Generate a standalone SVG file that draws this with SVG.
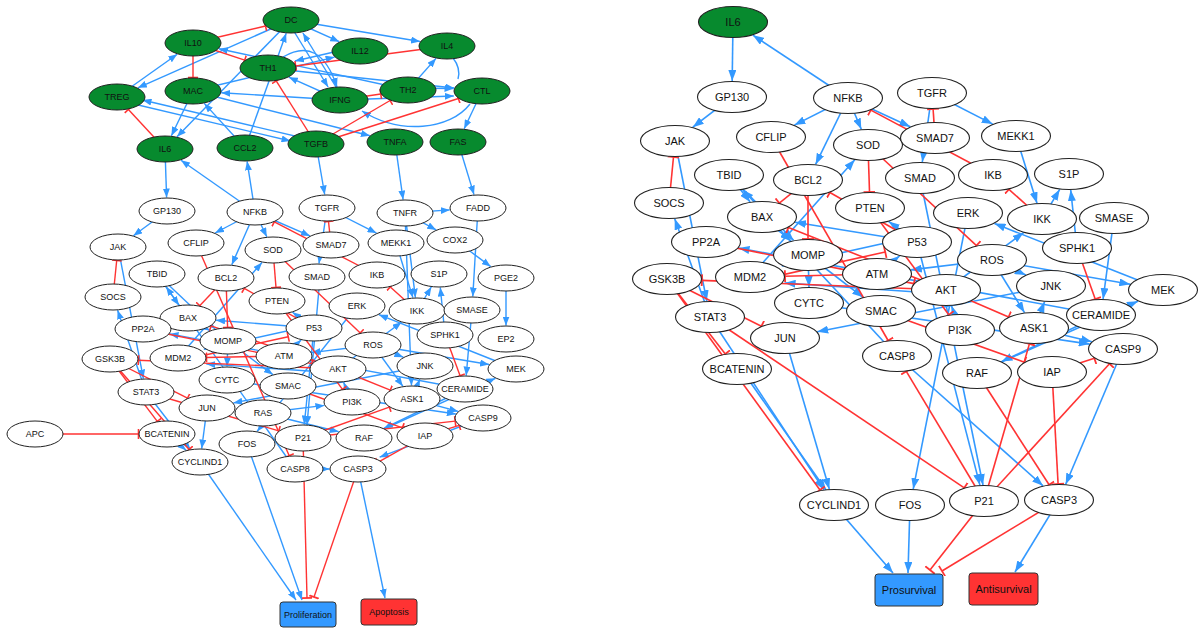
<svg xmlns="http://www.w3.org/2000/svg" width="1199" height="630" viewBox="0 0 1199 630">
<style>
text{font-family:"Liberation Sans",Arial,sans-serif;fill:#111;text-anchor:middle}
.L text{font-size:9px}
.R text{font-size:11px}
.L ellipse{stroke:#222;stroke-width:1}
.R ellipse{stroke:#222;stroke-width:1.1}
.w ellipse{fill:#fff}
.g ellipse{fill:#078a2e}
.e path{fill:none}
.el path{stroke-width:1.4}
.er path{stroke-width:1.6}
.a path{stroke:#3399ff}
.i path{stroke:#ff3333}
.el .a path{marker-end:url(#aL)}
.el .i path{marker-end:url(#tL)}
.er .a path{marker-end:url(#aR)}
.er .i path{marker-end:url(#tR)}
.el .p path{stroke:#3399ff}
.box rect{stroke:#333;stroke-width:1}
</style>
<defs>
<marker id="aL" markerUnits="userSpaceOnUse" markerWidth="9" markerHeight="7" refX="9" refY="3.5" orient="auto"><path d="M0,0 L9,3.5 L0,7 z" fill="#3399ff"/></marker>
<marker id="tL" markerUnits="userSpaceOnUse" markerWidth="3" markerHeight="10" refX="1.5" refY="5" orient="auto"><path d="M1.5,0 V10" stroke="#ff3333" stroke-width="1.6"/></marker>
<marker id="aR" markerUnits="userSpaceOnUse" markerWidth="11" markerHeight="8" refX="11" refY="4" orient="auto"><path d="M0,0 L11,4 L0,8 z" fill="#3399ff"/></marker>
<marker id="tR" markerUnits="userSpaceOnUse" markerWidth="3" markerHeight="12" refX="1.5" refY="6" orient="auto"><path d="M1.5,0 V12" stroke="#ff3333" stroke-width="1.8"/></marker>
</defs>
<rect width="1199" height="630" fill="#fff"/>

<g id="connectors">
<g id="edges-left" class="e el">
<g class="a">
<path d="M165,149 L166.6,197.5"/><path d="M255,212 L181,160.2"/><path d="M167,211 L133.4,235.7"/><path d="M118,247 L143.4,378.6"/>
<path d="M146,392 L117.6,310.3"/><path d="M255,212 L215.1,233"/><path d="M255,212 L231.8,264.8"/><path d="M255,212 L266.8,236.8"/>
<path d="M255,212 L310,235.9"/><path d="M327,208 L319,263.5"/><path d="M327,208 L376.5,233.1"/><path d="M396,243 L412.9,297.6"/>
<path d="M157,274 L179,305.2"/><path d="M157,274 L215.2,328.9"/><path d="M188,318 L209.9,330.6"/><path d="M228,341 L227,366.5"/>
<path d="M228,341 L272.8,374.6"/><path d="M314,328 L216.1,320.2"/><path d="M314,328 L292.5,312.3"/><path d="M314,325 L203.8,349.3"/>
<path d="M284,356 L301.1,340"/><path d="M207,408 L201.7,448.6"/><path d="M167,434 L186.1,450.2"/><path d="M146,392 L190.2,449.3"/>
<path d="M227,380 L455.8,414"/><path d="M483,418 L379.6,457.2"/><path d="M295,469 L329.5,469"/><path d="M295,469 L166.1,286.8"/>
<path d="M352,402 L343.6,382.2"/><path d="M338,373 L206.2,363.9"/><path d="M338,369 L401.5,322.3"/><path d="M364,438 L495.4,378.3"/>
<path d="M516,369 L378.9,314.7"/><path d="M357,306 L257.1,431.4"/><path d="M373,345 L311.6,352.6"/><path d="M373,345 L402.8,386.2"/>
<path d="M373,345 L403.3,357.2"/><path d="M412,399 L419.8,379.3"/><path d="M425,366 L233.4,402.9"/><path d="M472,310 L466.2,375.6"/>
<path d="M445,335 L440.3,287.5"/><path d="M465,389 L169.5,333.9"/><path d="M314,328 L304.3,424.5"/><path d="M320,277 L307,425"/>
<path d="M465,389 L383.9,428.3"/><path d="M412,399 L458.2,411.4"/><path d="M373,345 L489.1,364.5"/><path d="M178,358 L262,262.5"/>
<path d="M417,311 L431.3,287"/>
<path d="M316,144 L324.7,194.5"/><path d="M395,142 L403.1,199.6"/><path d="M458,142 L474,194.6"/><path d="M405,213 L449.8,209.9"/>
<path d="M405,213 L436.2,229.9"/><path d="M455,240 L490.7,266.6"/><path d="M506,278 L506,325.5"/><path d="M478,208 L472.8,296.5"/>
<path d="M405,213 L415.4,297.6"/><path d="M405,213 L411.5,385.5"/><path d="M263,413 L324.4,405.4"/><path d="M263,413 L338.7,431.7"/>
<path d="M255,212 L247.1,161.3"/>
<path d="M200,462 L296,600"/><path d="M247,444 L302,600"/><path d="M358,469 L385,598"/>
<path d="M291,20 L339.3,41.7"/><path d="M291,20 L420.1,41.5"/><path d="M117,97 L177.2,54.2"/><path d="M291,20 L137.8,87.8"/>
<path d="M408,90 L218.9,48.7"/><path d="M360,46 L295,61"/><path d="M245,148 L286.2,33.3"/><path d="M344,100 L302.9,33"/>
<path d="M287,20 L328.1,87"/><path d="M283,57 Q320,35 337,87"/><path d="M193,91 L171.4,135.8"/><path d="M117,100 L290.5,141"/>
<path d="M316,141 L142.5,100"/><path d="M193,91 L369.9,135.7"/><path d="M340,100 L221.3,92.7"/><path d="M193,91 L334.6,57.1"/>
<path d="M245,148 L204.3,103.4"/><path d="M291,20 L177,136.7"/><path d="M268,68 L454.2,88"/><path d="M408,90 L436,58.4"/>
<path d="M408,88 L453.5,88.5"/><path d="M340,100 L453.8,96"/><path d="M470,104 C450,130 400,135 362,111"/><path d="M482,91 L464.2,128.8"/>
<path d="M340,100 L288.8,77.2"/>
</g>
<g class="p"><path d="M453,58 Q461,68 458,79"/></g>
<g class="i">
<path d="M113,297 L116.7,260.5"/><path d="M377,275 L274.3,221.9"/><path d="M417,311 L390.3,286.9"/><path d="M331,245 L328.5,221.5"/>
<path d="M196,243 L289.2,455.8"/><path d="M226,278 L199.7,305.7"/><path d="M226,278 L227.6,327.5"/><path d="M314,328 L244.3,288.4"/>
<path d="M178,361 L288.2,336.7"/><path d="M284,356 L206.5,357.5"/><path d="M338,369 L138.4,360.2"/><path d="M110,359 L157.3,421.3"/>
<path d="M110,359 L189.1,449.5"/><path d="M110,359 L187.5,398.2"/><path d="M143,329 L311.9,363.6"/><path d="M288,386 L402.4,427.8"/>
<path d="M425,436 L459.2,425.4"/><path d="M425,436 L377.8,462.3"/><path d="M277,301 L342.5,389.3"/><path d="M338,369 L211.1,325.9"/>
<path d="M273,250 L360.3,332.9"/><path d="M445,335 L460.1,375.7"/><path d="M146,392 L278.8,430.9"/><path d="M303,438 L389.3,407.1"/>
<path d="M303,438 L455.2,421.1"/><path d="M273,250 L276,287.5"/><path d="M338,369 L390.3,390.2"/><path d="M35,434 L138.5,434"/>
<path d="M303,438 L307,598"/><path d="M358,469 L314,597"/>
<path d="M193,43 L265.5,26"/><path d="M193,43 L193,77.5"/><path d="M193,43 L244.7,60.2"/><path d="M447,46 L295.6,66"/>
<path d="M165,149 L128.4,109.4"/><path d="M340,100 L380.8,94"/><path d="M316,144 L276.2,80.9"/><path d="M316,144 L390.1,100.5"/>
<path d="M316,144 L458.4,98.5"/>
</g>
</g>

<g id="edges-right" class="e er">
<g class="a">
<path d="M733,22 L732.2,81"/><path d="M848,98 L752.9,35.2"/><path d="M732,97 L692.8,127.2"/><path d="M675,141 L706.8,301.1"/>
<path d="M710,317 L674.7,218.8"/><path d="M848,98 L794.4,125.1"/><path d="M848,98 L815.6,164.4"/><path d="M848,98 L861.3,129.3"/>
<path d="M848,98 L910.3,126.7"/><path d="M932,93 L922.3,162"/><path d="M932,93 L992.7,124.1"/><path d="M1016,136 L1037,203.2"/>
<path d="M729,175 L750.2,201.9"/><path d="M729,175 L793.6,240.4"/><path d="M762,217 L791.1,241"/><path d="M808,255 L809,287"/>
<path d="M808,255 L863.1,297.3"/><path d="M917,242 L795,222.3"/><path d="M917,242 L888.7,221.5"/><path d="M917,236 L781.8,266"/>
<path d="M877,274 L899.6,255.9"/><path d="M785,338 L829.3,489.1"/><path d="M741,369 L826,490"/><path d="M710,317 L823.9,489.7"/>
<path d="M809,303 L1089.7,344.1"/><path d="M1123,349 L1065.7,484.3"/><path d="M897,356 L1043,485.8"/><path d="M897,356 L742.7,189.7"/>
<path d="M960,330 L951.5,305.8"/><path d="M946,294 L784.6,283"/><path d="M946,290 L1023.6,232.6"/><path d="M977,373 L1137.9,301.2"/>
<path d="M1163,290 L994.5,223.5"/><path d="M968,213 L913.2,489.1"/><path d="M992,260 L910.8,269.9"/><path d="M992,260 L1024.5,312.6"/>
<path d="M992,260 L1025.8,274.9"/><path d="M1034,328 L1044.6,301.7"/><path d="M1051,286 L817.2,331.7"/><path d="M1114,218 L1103.1,299"/>
<path d="M1077,248 L1070.7,190"/><path d="M1101,315 L738.5,248"/><path d="M917,242 L979.9,485.1"/><path d="M920,178 L983,485"/>
<path d="M1101,315 L1001.5,361.6"/><path d="M1034,328 L1091.9,341.7"/><path d="M992,260 L1130.3,284.3"/><path d="M750,277 L854.8,159.8"/>
<path d="M1042,219 L1059.7,189.4"/>
<path d="M834,505 L893,573"/><path d="M910,505 L908,573"/><path d="M1059,500 L1015,572"/>
</g>
<g class="i">
<path d="M669,203 L673.5,157"/><path d="M993,175 L870.8,110.1"/><path d="M1042,219 L1008.9,189.3"/><path d="M935,138 L933.1,109"/>
<path d="M771,137 L888.1,340.5"/><path d="M808,180 L779.3,203.1"/><path d="M808,180 L808,239"/><path d="M917,242 L829.9,192.5"/>
<path d="M750,282 L885.2,252"/><path d="M877,274 L785,276.2"/><path d="M946,290 L701.9,280.4"/><path d="M667,279 L725.3,353.9"/>
<path d="M667,279 L820,490"/><path d="M667,279 L761.4,326.2"/><path d="M706,242 L913.9,283.6"/><path d="M881,311 L1024.4,362.2"/>
<path d="M1052,372 L1094.4,358.3"/><path d="M1052,372 L1058.1,484"/><path d="M870,208 L948.8,314.8"/><path d="M946,290 L788.4,227.5"/>
<path d="M868,145 L976.5,245.6"/><path d="M1077,248 L1095.3,299.2"/><path d="M710,317 L964.3,487.8"/><path d="M984,501 L906.3,371.4"/>
<path d="M984,501 L1029.4,343.9"/><path d="M984,501 L1109.5,363.8"/><path d="M977,373 L1049.1,484.7"/><path d="M868,145 L869.5,192"/>
<path d="M946,290 L1008.6,317"/>
<path d="M984,501 L930,570"/><path d="M1059,500 L942,571"/>
</g>
</g>
</g>

<g id="nodes-left" class="L">
<g id="L-DC" class="g"><ellipse cx="291" cy="20" rx="28" ry="13"/><text x="291" y="20" dy="0.35em">DC</text></g>
<g id="L-IL10" class="g"><ellipse cx="193" cy="43" rx="28" ry="13"/><text x="193" y="43" dy="0.35em">IL10</text></g>
<g id="L-IL12" class="g"><ellipse cx="360" cy="51" rx="28" ry="13"/><text x="360" y="51" dy="0.35em">IL12</text></g>
<g id="L-IL4" class="g"><ellipse cx="447" cy="46" rx="28" ry="13"/><text x="447" y="46" dy="0.35em">IL4</text></g>
<g id="L-TH1" class="g"><ellipse cx="268" cy="68" rx="28" ry="13"/><text x="268" y="68" dy="0.35em">TH1</text></g>
<g id="L-TREG" class="g"><ellipse cx="117" cy="97" rx="28" ry="13"/><text x="117" y="97" dy="0.35em">TREG</text></g>
<g id="L-MAC" class="g"><ellipse cx="193" cy="91" rx="28" ry="13"/><text x="193" y="91" dy="0.35em">MAC</text></g>
<g id="L-IFNG" class="g"><ellipse cx="340" cy="100" rx="28" ry="13"/><text x="340" y="100" dy="0.35em">IFNG</text></g>
<g id="L-TH2" class="g"><ellipse cx="408" cy="90" rx="28" ry="13"/><text x="408" y="90" dy="0.35em">TH2</text></g>
<g id="L-CTL" class="g"><ellipse cx="482" cy="91" rx="28" ry="13"/><text x="482" y="91" dy="0.35em">CTL</text></g>
<g id="L-IL6" class="g"><ellipse cx="165" cy="149" rx="28" ry="13"/><text x="165" y="149" dy="0.35em">IL6</text></g>
<g id="L-CCL2" class="g"><ellipse cx="245" cy="148" rx="28" ry="13"/><text x="245" y="148" dy="0.35em">CCL2</text></g>
<g id="L-TGFB" class="g"><ellipse cx="316" cy="144" rx="28" ry="13"/><text x="316" y="144" dy="0.35em">TGFB</text></g>
<g id="L-TNFA" class="g"><ellipse cx="395" cy="142" rx="28" ry="13"/><text x="395" y="142" dy="0.35em">TNFA</text></g>
<g id="L-FAS" class="g"><ellipse cx="458" cy="142" rx="28" ry="13"/><text x="458" y="142" dy="0.35em">FAS</text></g>
<g id="L-GP130" class="w"><ellipse cx="167" cy="211" rx="28" ry="13"/><text x="167" y="211" dy="0.35em">GP130</text></g>
<g id="L-NFKB" class="w"><ellipse cx="255" cy="212" rx="28" ry="13"/><text x="255" y="212" dy="0.35em">NFKB</text></g>
<g id="L-TGFR" class="w"><ellipse cx="327" cy="208" rx="28" ry="13"/><text x="327" y="208" dy="0.35em">TGFR</text></g>
<g id="L-TNFR" class="w"><ellipse cx="405" cy="213" rx="28" ry="13"/><text x="405" y="213" dy="0.35em">TNFR</text></g>
<g id="L-FADD" class="w"><ellipse cx="478" cy="208" rx="28" ry="13"/><text x="478" y="208" dy="0.35em">FADD</text></g>
<g id="L-JAK" class="w"><ellipse cx="118" cy="247" rx="28" ry="13"/><text x="118" y="247" dy="0.35em">JAK</text></g>
<g id="L-CFLIP" class="w"><ellipse cx="196" cy="243" rx="28" ry="13"/><text x="196" y="243" dy="0.35em">CFLIP</text></g>
<g id="L-SOD" class="w"><ellipse cx="273" cy="250" rx="28" ry="13"/><text x="273" y="250" dy="0.35em">SOD</text></g>
<g id="L-SMAD7" class="w"><ellipse cx="331" cy="245" rx="28" ry="13"/><text x="331" y="245" dy="0.35em">SMAD7</text></g>
<g id="L-MEKK1" class="w"><ellipse cx="396" cy="243" rx="28" ry="13"/><text x="396" y="243" dy="0.35em">MEKK1</text></g>
<g id="L-COX2" class="w"><ellipse cx="455" cy="240" rx="28" ry="13"/><text x="455" y="240" dy="0.35em">COX2</text></g>
<g id="L-TBID" class="w"><ellipse cx="157" cy="274" rx="28" ry="13"/><text x="157" y="274" dy="0.35em">TBID</text></g>
<g id="L-BCL2" class="w"><ellipse cx="226" cy="278" rx="28" ry="13"/><text x="226" y="278" dy="0.35em">BCL2</text></g>
<g id="L-SMAD" class="w"><ellipse cx="317" cy="277" rx="28" ry="13"/><text x="317" y="277" dy="0.35em">SMAD</text></g>
<g id="L-IKB" class="w"><ellipse cx="377" cy="275" rx="28" ry="13"/><text x="377" y="275" dy="0.35em">IKB</text></g>
<g id="L-S1P" class="w"><ellipse cx="439" cy="274" rx="28" ry="13"/><text x="439" y="274" dy="0.35em">S1P</text></g>
<g id="L-PGE2" class="w"><ellipse cx="506" cy="278" rx="28" ry="13"/><text x="506" y="278" dy="0.35em">PGE2</text></g>
<g id="L-SOCS" class="w"><ellipse cx="113" cy="297" rx="28" ry="13"/><text x="113" y="297" dy="0.35em">SOCS</text></g>
<g id="L-BAX" class="w"><ellipse cx="188" cy="318" rx="28" ry="13"/><text x="188" y="318" dy="0.35em">BAX</text></g>
<g id="L-PTEN" class="w"><ellipse cx="277" cy="301" rx="28" ry="13"/><text x="277" y="301" dy="0.35em">PTEN</text></g>
<g id="L-ERK" class="w"><ellipse cx="357" cy="306" rx="28" ry="13"/><text x="357" y="306" dy="0.35em">ERK</text></g>
<g id="L-IKK" class="w"><ellipse cx="417" cy="311" rx="28" ry="13"/><text x="417" y="311" dy="0.35em">IKK</text></g>
<g id="L-SMASE" class="w"><ellipse cx="472" cy="310" rx="28" ry="13"/><text x="472" y="310" dy="0.35em">SMASE</text></g>
<g id="L-PP2A" class="w"><ellipse cx="143" cy="329" rx="28" ry="13"/><text x="143" y="329" dy="0.35em">PP2A</text></g>
<g id="L-MOMP" class="w"><ellipse cx="228" cy="341" rx="28" ry="13"/><text x="228" y="341" dy="0.35em">MOMP</text></g>
<g id="L-P53" class="w"><ellipse cx="314" cy="328" rx="28" ry="13"/><text x="314" y="328" dy="0.35em">P53</text></g>
<g id="L-SPHK1" class="w"><ellipse cx="445" cy="335" rx="28" ry="13"/><text x="445" y="335" dy="0.35em">SPHK1</text></g>
<g id="L-EP2" class="w"><ellipse cx="506" cy="339" rx="28" ry="13"/><text x="506" y="339" dy="0.35em">EP2</text></g>
<g id="L-ROS" class="w"><ellipse cx="373" cy="345" rx="28" ry="13"/><text x="373" y="345" dy="0.35em">ROS</text></g>
<g id="L-GSK3B" class="w"><ellipse cx="110" cy="359" rx="28" ry="13"/><text x="110" y="359" dy="0.35em">GSK3B</text></g>
<g id="L-MDM2" class="w"><ellipse cx="178" cy="358" rx="28" ry="13"/><text x="178" y="358" dy="0.35em">MDM2</text></g>
<g id="L-ATM" class="w"><ellipse cx="284" cy="356" rx="28" ry="13"/><text x="284" y="356" dy="0.35em">ATM</text></g>
<g id="L-AKT" class="w"><ellipse cx="338" cy="369" rx="28" ry="13"/><text x="338" y="369" dy="0.35em">AKT</text></g>
<g id="L-JNK" class="w"><ellipse cx="425" cy="366" rx="28" ry="13"/><text x="425" y="366" dy="0.35em">JNK</text></g>
<g id="L-MEK" class="w"><ellipse cx="516" cy="369" rx="28" ry="13"/><text x="516" y="369" dy="0.35em">MEK</text></g>
<g id="L-CYTC" class="w"><ellipse cx="227" cy="380" rx="28" ry="13"/><text x="227" y="380" dy="0.35em">CYTC</text></g>
<g id="L-SMAC" class="w"><ellipse cx="288" cy="386" rx="28" ry="13"/><text x="288" y="386" dy="0.35em">SMAC</text></g>
<g id="L-CERAMIDE" class="w"><ellipse cx="465" cy="389" rx="28" ry="13"/><text x="465" y="389" dy="0.35em">CERAMIDE</text></g>
<g id="L-STAT3" class="w"><ellipse cx="146" cy="392" rx="28" ry="13"/><text x="146" y="392" dy="0.35em">STAT3</text></g>
<g id="L-PI3K" class="w"><ellipse cx="352" cy="402" rx="28" ry="13"/><text x="352" y="402" dy="0.35em">PI3K</text></g>
<g id="L-ASK1" class="w"><ellipse cx="412" cy="399" rx="28" ry="13"/><text x="412" y="399" dy="0.35em">ASK1</text></g>
<g id="L-JUN" class="w"><ellipse cx="207" cy="408" rx="28" ry="13"/><text x="207" y="408" dy="0.35em">JUN</text></g>
<g id="L-RAS" class="w"><ellipse cx="263" cy="413" rx="28" ry="13"/><text x="263" y="413" dy="0.35em">RAS</text></g>
<g id="L-CASP9" class="w"><ellipse cx="483" cy="418" rx="28" ry="13"/><text x="483" y="418" dy="0.35em">CASP9</text></g>
<g id="L-APC" class="w"><ellipse cx="35" cy="434" rx="28" ry="13"/><text x="35" y="434" dy="0.35em">APC</text></g>
<g id="L-BCATENIN" class="w"><ellipse cx="167" cy="434" rx="28" ry="13"/><text x="167" y="434" dy="0.35em">BCATENIN</text></g>
<g id="L-FOS" class="w"><ellipse cx="247" cy="444" rx="28" ry="13"/><text x="247" y="444" dy="0.35em">FOS</text></g>
<g id="L-P21" class="w"><ellipse cx="303" cy="438" rx="28" ry="13"/><text x="303" y="438" dy="0.35em">P21</text></g>
<g id="L-RAF" class="w"><ellipse cx="364" cy="438" rx="28" ry="13"/><text x="364" y="438" dy="0.35em">RAF</text></g>
<g id="L-IAP" class="w"><ellipse cx="425" cy="436" rx="28" ry="13"/><text x="425" y="436" dy="0.35em">IAP</text></g>
<g id="L-CYCLIND1" class="w"><ellipse cx="200" cy="462" rx="28" ry="13"/><text x="200" y="462" dy="0.35em">CYCLIND1</text></g>
<g id="L-CASP8" class="w"><ellipse cx="295" cy="469" rx="28" ry="13"/><text x="295" y="469" dy="0.35em">CASP8</text></g>
<g id="L-CASP3" class="w"><ellipse cx="358" cy="469" rx="28" ry="13"/><text x="358" y="469" dy="0.35em">CASP3</text></g>
<g id="L-Proliferation" class="box"><rect x="280" y="602" width="56" height="25" rx="3" fill="#3399ff"/><text x="308" y="614.5" dy="0.35em">Proliferation</text></g>
<g id="L-Apoptosis" class="box"><rect x="361" y="599" width="56" height="26" rx="3" fill="#ff3333"/><text x="389" y="612" dy="0.35em">Apoptosis</text></g>
</g>

<g id="nodes-right" class="R">
<g id="R-IL6" class="g"><ellipse cx="733" cy="22" rx="34.5" ry="15.5"/><text x="733" y="22" dy="0.35em">IL6</text></g>
<g id="R-GP130" class="w"><ellipse cx="732" cy="97" rx="34.5" ry="15.5"/><text x="732" y="97" dy="0.35em">GP130</text></g>
<g id="R-NFKB" class="w"><ellipse cx="848" cy="98" rx="34.5" ry="15.5"/><text x="848" y="98" dy="0.35em">NFKB</text></g>
<g id="R-TGFR" class="w"><ellipse cx="932" cy="93" rx="34.5" ry="15.5"/><text x="932" y="93" dy="0.35em">TGFR</text></g>
<g id="R-JAK" class="w"><ellipse cx="675" cy="141" rx="34.5" ry="15.5"/><text x="675" y="141" dy="0.35em">JAK</text></g>
<g id="R-CFLIP" class="w"><ellipse cx="771" cy="137" rx="34.5" ry="15.5"/><text x="771" y="137" dy="0.35em">CFLIP</text></g>
<g id="R-SOD" class="w"><ellipse cx="868" cy="145" rx="34.5" ry="15.5"/><text x="868" y="145" dy="0.35em">SOD</text></g>
<g id="R-SMAD7" class="w"><ellipse cx="935" cy="138" rx="34.5" ry="15.5"/><text x="935" y="138" dy="0.35em">SMAD7</text></g>
<g id="R-MEKK1" class="w"><ellipse cx="1016" cy="136" rx="34.5" ry="15.5"/><text x="1016" y="136" dy="0.35em">MEKK1</text></g>
<g id="R-TBID" class="w"><ellipse cx="729" cy="175" rx="34.5" ry="15.5"/><text x="729" y="175" dy="0.35em">TBID</text></g>
<g id="R-BCL2" class="w"><ellipse cx="808" cy="180" rx="34.5" ry="15.5"/><text x="808" y="180" dy="0.35em">BCL2</text></g>
<g id="R-SMAD" class="w"><ellipse cx="920" cy="178" rx="34.5" ry="15.5"/><text x="920" y="178" dy="0.35em">SMAD</text></g>
<g id="R-IKB" class="w"><ellipse cx="993" cy="175" rx="34.5" ry="15.5"/><text x="993" y="175" dy="0.35em">IKB</text></g>
<g id="R-S1P" class="w"><ellipse cx="1069" cy="174" rx="34.5" ry="15.5"/><text x="1069" y="174" dy="0.35em">S1P</text></g>
<g id="R-SOCS" class="w"><ellipse cx="669" cy="203" rx="34.5" ry="15.5"/><text x="669" y="203" dy="0.35em">SOCS</text></g>
<g id="R-BAX" class="w"><ellipse cx="762" cy="217" rx="34.5" ry="15.5"/><text x="762" y="217" dy="0.35em">BAX</text></g>
<g id="R-PTEN" class="w"><ellipse cx="870" cy="208" rx="34.5" ry="15.5"/><text x="870" y="208" dy="0.35em">PTEN</text></g>
<g id="R-ERK" class="w"><ellipse cx="968" cy="213" rx="34.5" ry="15.5"/><text x="968" y="213" dy="0.35em">ERK</text></g>
<g id="R-IKK" class="w"><ellipse cx="1042" cy="219" rx="34.5" ry="15.5"/><text x="1042" y="219" dy="0.35em">IKK</text></g>
<g id="R-SMASE" class="w"><ellipse cx="1114" cy="218" rx="34.5" ry="15.5"/><text x="1114" y="218" dy="0.35em">SMASE</text></g>
<g id="R-PP2A" class="w"><ellipse cx="706" cy="242" rx="34.5" ry="15.5"/><text x="706" y="242" dy="0.35em">PP2A</text></g>
<g id="R-MOMP" class="w"><ellipse cx="808" cy="255" rx="34.5" ry="15.5"/><text x="808" y="255" dy="0.35em">MOMP</text></g>
<g id="R-P53" class="w"><ellipse cx="917" cy="242" rx="34.5" ry="15.5"/><text x="917" y="242" dy="0.35em">P53</text></g>
<g id="R-SPHK1" class="w"><ellipse cx="1077" cy="248" rx="34.5" ry="15.5"/><text x="1077" y="248" dy="0.35em">SPHK1</text></g>
<g id="R-ROS" class="w"><ellipse cx="992" cy="260" rx="34.5" ry="15.5"/><text x="992" y="260" dy="0.35em">ROS</text></g>
<g id="R-GSK3B" class="w"><ellipse cx="667" cy="279" rx="34.5" ry="15.5"/><text x="667" y="279" dy="0.35em">GSK3B</text></g>
<g id="R-MDM2" class="w"><ellipse cx="750" cy="277" rx="34.5" ry="15.5"/><text x="750" y="277" dy="0.35em">MDM2</text></g>
<g id="R-ATM" class="w"><ellipse cx="877" cy="274" rx="34.5" ry="15.5"/><text x="877" y="274" dy="0.35em">ATM</text></g>
<g id="R-JNK" class="w"><ellipse cx="1051" cy="286" rx="34.5" ry="15.5"/><text x="1051" y="286" dy="0.35em">JNK</text></g>
<g id="R-AKT" class="w"><ellipse cx="946" cy="290" rx="34.5" ry="15.5"/><text x="946" y="290" dy="0.35em">AKT</text></g>
<g id="R-MEK" class="w"><ellipse cx="1163" cy="290" rx="34.5" ry="15.5"/><text x="1163" y="290" dy="0.35em">MEK</text></g>
<g id="R-CYTC" class="w"><ellipse cx="809" cy="303" rx="34.5" ry="15.5"/><text x="809" y="303" dy="0.35em">CYTC</text></g>
<g id="R-SMAC" class="w"><ellipse cx="881" cy="311" rx="34.5" ry="15.5"/><text x="881" y="311" dy="0.35em">SMAC</text></g>
<g id="R-CERAMIDE" class="w"><ellipse cx="1101" cy="315" rx="34.5" ry="15.5"/><text x="1101" y="315" dy="0.35em">CERAMIDE</text></g>
<g id="R-STAT3" class="w"><ellipse cx="710" cy="317" rx="34.5" ry="15.5"/><text x="710" y="317" dy="0.35em">STAT3</text></g>
<g id="R-JUN" class="w"><ellipse cx="785" cy="338" rx="34.5" ry="15.5"/><text x="785" y="338" dy="0.35em">JUN</text></g>
<g id="R-PI3K" class="w"><ellipse cx="960" cy="330" rx="34.5" ry="15.5"/><text x="960" y="330" dy="0.35em">PI3K</text></g>
<g id="R-ASK1" class="w"><ellipse cx="1034" cy="328" rx="34.5" ry="15.5"/><text x="1034" y="328" dy="0.35em">ASK1</text></g>
<g id="R-CASP8" class="w"><ellipse cx="897" cy="356" rx="34.5" ry="15.5"/><text x="897" y="356" dy="0.35em">CASP8</text></g>
<g id="R-CASP9" class="w"><ellipse cx="1123" cy="349" rx="34.5" ry="15.5"/><text x="1123" y="349" dy="0.35em">CASP9</text></g>
<g id="R-BCATENIN" class="w"><ellipse cx="737" cy="369" rx="34.5" ry="15.5"/><text x="737" y="369" dy="0.35em">BCATENIN</text></g>
<g id="R-RAF" class="w"><ellipse cx="977" cy="373" rx="34.5" ry="15.5"/><text x="977" y="373" dy="0.35em">RAF</text></g>
<g id="R-IAP" class="w"><ellipse cx="1052" cy="372" rx="34.5" ry="15.5"/><text x="1052" y="372" dy="0.35em">IAP</text></g>
<g id="R-CYCLIND1" class="w"><ellipse cx="834" cy="505" rx="34.5" ry="15.5"/><text x="834" y="505" dy="0.35em">CYCLIND1</text></g>
<g id="R-FOS" class="w"><ellipse cx="910" cy="505" rx="34.5" ry="15.5"/><text x="910" y="505" dy="0.35em">FOS</text></g>
<g id="R-P21" class="w"><ellipse cx="984" cy="501" rx="34.5" ry="15.5"/><text x="984" y="501" dy="0.35em">P21</text></g>
<g id="R-CASP3" class="w"><ellipse cx="1059" cy="500" rx="34.5" ry="15.5"/><text x="1059" y="500" dy="0.35em">CASP3</text></g>
<g id="R-Prosurvival" class="box"><rect x="875" y="574" width="68" height="32" rx="3" fill="#3399ff"/><text x="909" y="590" dy="0.35em">Prosurvival</text></g>
<g id="R-Antisurvival" class="box"><rect x="969" y="573" width="69" height="32" rx="3" fill="#ff3333"/><text x="1003.5" y="589" dy="0.35em">Antisurvival</text></g>
</g>
</svg>
